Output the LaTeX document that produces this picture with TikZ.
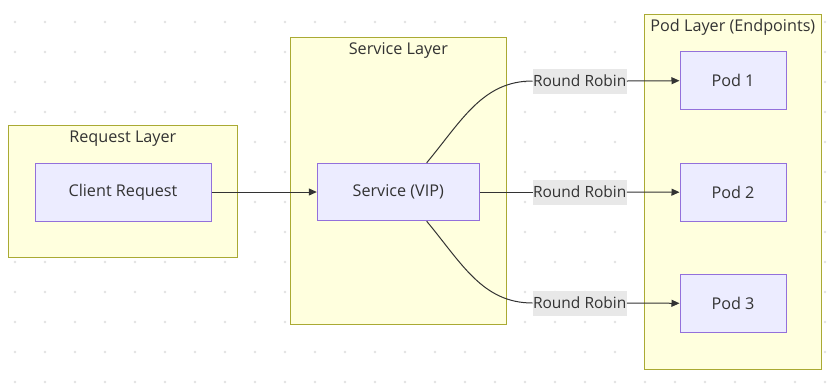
\documentclass[tikz,border=0pt]{standalone}
\usepackage{fontspec}
\setmainfont{Open Sans}
\usetikzlibrary{arrows.meta,calc}
\definecolor{clfill}{HTML}{FFFFDE}
\definecolor{clstroke}{HTML}{AAAA33}
\definecolor{ndfill}{HTML}{ECECFF}
\definecolor{ndstroke}{HTML}{9370DB}
\definecolor{lbfill}{HTML}{E8E8E8}
\definecolor{ink}{HTML}{333333}
\definecolor{dotc}{HTML}{E2E2E2}
\tikzset{
  cluster/.style={draw=clstroke, fill=clfill, line width=1pt, inner sep=0pt},
  cltitle/.style={text=ink, font=\fontsize{16.2}{18}\selectfont, inner sep=0pt},
  box/.style={draw=ndstroke, fill=ndfill, line width=1pt, inner sep=0pt, text=ink, font=\fontsize{16.2}{18}\selectfont},
  elabel/.style={fill=lbfill, inner sep=0pt, minimum width=94pt, minimum height=25pt, text=ink, font=\fontsize{15.5}{17}\selectfont},
  edge/.style={draw=ink, line width=1pt},
  arr/.style={edge, -{Triangle[length=8pt,width=7pt]}}
}
\begin{document}
\begin{tikzpicture}[x=1pt,y=-1pt]
\useasboundingbox (0,0) rectangle (831,384);
\fill[white] (0,0) rectangle (831,384);
% dotted background
\foreach \i in {0,...,27} {
  \foreach \j in {0,...,12} {
    \fill[dotc] ({15+30*\i},{22+30*\j}) circle (1.3pt);
  }
}
% clusters
\node[cluster, minimum width=229pt, minimum height=132pt] (reqL) at (122.8,191.7) {};
\node[cluster, minimum width=215.3pt, minimum height=287.4pt] (svcL) at (398.35,181) {};
\node[cluster, minimum width=176.3pt, minimum height=355.3pt] (podL) at (732.85,191.65) {};
\node[cltitle] (reqT) at (122.8,139) {Request Layer};
\node[cltitle] (svcT) at (398.35,50.5) {Service Layer};
\node[cltitle] (podT) at (732.85,27.5) {Pod Layer (Endpoints)};
% nodes
\node[box, minimum width=176pt, minimum height=58pt] (client) at (123,192) {Client Request};
\node[box, minimum width=162pt, minimum height=57.5pt] (svc) at (398.3,192) {Service (VIP)};
\node[box, minimum width=106pt, minimum height=58pt] (pod1) at (733,80.7) {Pod 1};
\node[box, minimum width=106pt, minimum height=58pt] (pod2) at (733,192.2) {Pod 2};
\node[box, minimum width=106pt, minimum height=58pt] (pod3) at (733,303.3) {Pod 3};
% edge labels
\node[elabel] (rr1) at (579.7,81) {Round Robin};
\node[elabel] (rr2) at (579.7,192) {Round Robin};
\node[elabel] (rr3) at (579.7,303) {Round Robin};
\coordinate (svcTop) at ($(svc.north)+(28.4,0)$);
\coordinate (svcBot) at ($(svc.south)+(28.4,0)$);
% connectors
\draw[arr] (client.east) -- (svc.west);
\draw[edge] (svcTop) .. controls ($(svcTop)+(35,-42)$) and ($(rr1.west)+(-50,0)$) .. (rr1.west);
\draw[edge] (svc.east) -- (rr2.west);
\draw[edge] (svcBot) .. controls ($(svcBot)+(35,42)$) and ($(rr3.west)+(-50,0)$) .. (rr3.west);
\draw[arr] (rr1.east) -- (pod1.west);
\draw[arr] (rr2.east) -- (pod2.west);
\draw[arr] (rr3.east) -- (pod3.west);
\end{tikzpicture}
\end{document}
